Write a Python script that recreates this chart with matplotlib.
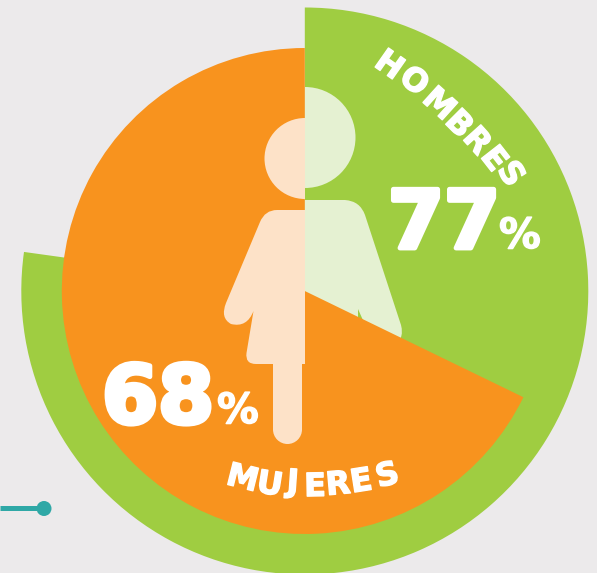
import matplotlib
matplotlib.use("Agg")
import matplotlib.pyplot as plt
import matplotlib.patheffects as pe
import numpy as np
from matplotlib.path import Path
from matplotlib.patches import PathPatch, Circle, Wedge, Rectangle

categories = ["HOMBRES", "MUJERES"]
percentages = [77, 68]
arc_shares = [77.2, 67.8]

BG = "#ECEAEB"; GREEN = "#9FCD41"; ORANGE = "#F8931E"
WOMAN = "#FDE2C8"; MAN = "#E5F1D2"; TEAL = "#2FA8A6"
FONT = "DejaVu Sans"

fig = plt.figure(figsize=(5.97, 5.73), dpi=100, facecolor=BG)
ax = fig.add_axes([0, 0, 1, 1])
ax.set_facecolor(BG)

CX, CY = 304.8, -291
ax.pie([arc_shares[0], 100 - arc_shares[0]], radius=283.5, center=(CX, CY), startangle=90,
       counterclock=False, colors=[GREEN, "none"], frame=False)

# man (right half), partly hidden by the orange wedge
ax.add_patch(Wedge((305, -137.5), 50.5, -90, 90, fc=MAN, ec="none"))
M, L, Q, Z = Path.MOVETO, Path.LINETO, Path.CURVE3, Path.CLOSEPOLY
man = [((305, -200), M), ((345, -200), L), ((360, -201), Q), ((365, -215), Q), ((401, -325), L),
       ((405, -340), Q), ((392, -346), Q), ((378, -348), Q), ((370, -336), Q), ((358, -309), L),
       ((358, -345), L), ((305, -345), L), ((305, -200), Z)]
ax.add_patch(PathPatch(Path([p for p, _ in man], [c for _, c in man]), fc=MAN, ec="none"))

ax.pie([100 - arc_shares[1], arc_shares[1]], radius=243, center=(CX, CY), startangle=90,
       counterclock=False, colors=["none", ORANGE], frame=False)

# woman (left half)
ax.add_patch(Wedge((305, -158.5), 40.5, 90, 270, fc=WOMAN, ec="none"))
woman = [((305, -210), M), ((277, -210), L), ((265, -210), Q), ((260, -222), Q), ((226, -303), L),
         ((220, -318), Q), ((231, -324), Q), ((247, -328), Q), ((253.5, -311), Q),
         ((246.5, -353), L), ((245, -364), Q), ((256, -364), Q), ((305, -364), L), ((305, -210), Z)]
ax.add_patch(PathPatch(Path([p for p, _ in woman], [c for _, c in woman]), fc=WOMAN, ec="none"))
ax.add_patch(Rectangle((273, -430), 29, 70, fc=WOMAN, ec="none"))
ax.add_patch(Circle((287.5, -429.5), 14.5, fc=WOMAN, ec="none"))

# teal connector
ax.plot([0, 44], [-508, -508], color=TEAL, lw=3.6, solid_capstyle="butt")
ax.add_patch(Circle((44, -508.5), 7.5, fc=TEAL, ec="none"))

# big numbers
heavy = [pe.withStroke(linewidth=3.5, foreground="white")]
med = [pe.withStroke(linewidth=1.0, foreground="white")]
ax.text(388, -248, str(percentages[0]), family=FONT, weight="bold", fontsize=58, color="white",
        ha="left", va="baseline", path_effects=heavy)
ax.text(499, -248, "%", family=FONT, weight="bold", fontsize=30, color="white", ha="left", va="baseline",
        path_effects=med)
ax.text(102, -423, str(percentages[1]), family=FONT, weight="bold", fontsize=58, color="white",
        ha="left", va="baseline", path_effects=heavy)
ax.text(217, -423, "%", family=FONT, weight="bold", fontsize=30, color="white", ha="left", va="baseline",
        path_effects=med)


def letters(word, xs, ys, rots):
    half_cap = 11.0
    for ch, x, y, r in zip(word, xs, ys, rots):
        a = np.radians(r)
        bx = x + half_cap * np.sin(a)
        by = -y - half_cap * np.cos(a)
        ax.text(bx, by, ch, family=FONT, weight="bold", fontsize=23, color="white", rotation=r,
                rotation_mode="anchor", ha="center", va="baseline", path_effects=med)


# curved labels, letter by letter
h_x = [390, 415, 440, 460, 478, 495, 512]
h_y = [64, 80, 103, 123, 140, 158, 173]
h_rot = [-35, -38, -42, -45, -48, -52, -57]
letters(categories[0], h_x, h_y, h_rot)
m_x = [243, 270, 293, 315, 338, 361, 387]
m_y = [477, 483, 481, 485, 483, 480, 474]
m_rot = [-14, -9, -4, 1, 5, 9, 14]
letters(categories[1], m_x, m_y, m_rot)

ax.set_aspect("auto")
ax.set_xlim(0, 597)
ax.set_ylim(-573, 0)
ax.axis("off")
fig.savefig("out.png", dpi=100, facecolor=BG)
